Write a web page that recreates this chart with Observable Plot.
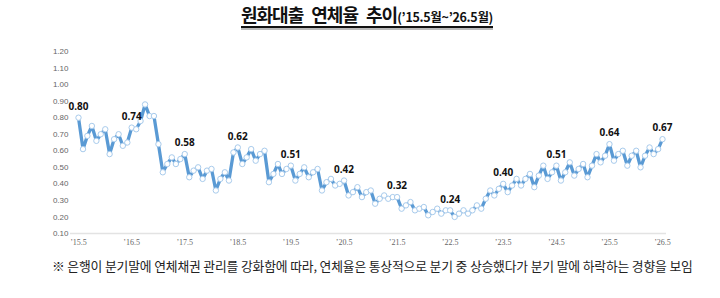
<!DOCTYPE html>
<html><head><meta charset="utf-8">
<script src="https://cdn.jsdelivr.net/npm/d3@7"></script>
<script src="https://cdn.jsdelivr.net/npm/@observablehq/plot@0.6"></script>
<style>
body{margin:0;width:720px;height:298px;background:#fff;position:relative;overflow:hidden;font-family:"Noto Sans CJK KR","Noto Sans",sans-serif;}
#title{position:absolute;top:5px;left:0;width:720px;text-align:center;line-height:1;}
#title .wrap{display:inline-block;border-bottom:2px solid #111;box-shadow:0 2px 0 #bbb;padding-bottom:2px;margin-left:14px;}
#title .main{font-size:18px;font-weight:700;color:#111;letter-spacing:-1px;word-spacing:5px;}
#title .sub{font-size:12.5px;font-weight:700;color:#111;font-family:"Liberation Sans Narrow","Noto Sans CJK KR",sans-serif;letter-spacing:-0.3px;}
#unit{position:absolute;top:52px;left:631px;font-size:9px;color:#333;font-weight:700;}
#chart{position:absolute;top:40px;left:0;}
#note{position:absolute;top:256px;left:52px;font-size:12.8px;color:#222;white-space:nowrap;letter-spacing:-0.15px;}
</style></head>
<body>
<div id="title"><span class="wrap"><span class="main">원화대출 연체율 추이</span><span class="sub">(’15.5월~’26.5월)</span></span></div>
<div id="unit">(단위 : %)</div>
<div id="chart"></div>
<div id="note">※ 은행이 분기말에 연체채권 관리를 강화함에 따라, 연체율은 통상적으로 분기 중 상승했다가 분기 말에 하락하는 경향을 보임</div>
<script>
// Monthly delinquency rate (%), May 2015 – May 2026
const v2015 = [0.80, 0.61, 0.69, 0.75, 0.66, 0.70, 0.73, 0.58]; // May–Dec
const v2016 = [0.67, 0.70, 0.63, 0.65, 0.74, 0.73, 0.78, 0.88, 0.81, 0.81, 0.64, 0.47];
const v2017 = [0.52, 0.56, 0.52, 0.55, 0.58, 0.44, 0.48, 0.50, 0.43, 0.48, 0.49, 0.36];
const v2018 = [0.43, 0.47, 0.42, 0.59, 0.62, 0.52, 0.56, 0.61, 0.54, 0.58, 0.60, 0.41];
const v2019 = [0.46, 0.52, 0.46, 0.49, 0.51, 0.42, 0.46, 0.50, 0.44, 0.47, 0.49, 0.36];
const v2020 = [0.41, 0.43, 0.39, 0.40, 0.42, 0.33, 0.35, 0.38, 0.32, 0.35, 0.36, 0.28];
const v2021 = [0.31, 0.33, 0.31, 0.32, 0.32, 0.25, 0.27, 0.29, 0.24, 0.25, 0.26, 0.21];
const v2022 = [0.23, 0.25, 0.22, 0.24, 0.24, 0.20, 0.22, 0.24, 0.22, 0.24, 0.27, 0.25];
const v2023 = [0.31, 0.36, 0.33, 0.37, 0.40, 0.35, 0.39, 0.43, 0.39, 0.43, 0.46, 0.38];
const v2024 = [0.45, 0.51, 0.43, 0.47, 0.51, 0.42, 0.47, 0.53, 0.45, 0.49, 0.52, 0.44];
const v2025 = [0.51, 0.58, 0.53, 0.57, 0.64, 0.54, 0.58, 0.60, 0.51, 0.57, 0.60, 0.50];
const v2026 = [0.57, 0.62, 0.58, 0.61, 0.67]; // Jan–May

const startYear = 2015, startMonth = 5;
const xTickLabels = ["’15.5","’16.5","’17.5","’18.5","’19.5","’20.5","’21.5","’22.5","’23.5","’24.5","’25.5","’26.5"];
const yTicks = [0.10,0.20,0.30,0.40,0.50,0.60,0.70,0.80,0.90,1.00,1.10,1.20];
const labeledMonth = 5; // values labelled every May

const values = [].concat(v2015,v2016,v2017,v2018,v2019,v2020,v2021,v2022,v2023,v2024,v2025,v2026);
const data = values.map((v,i)=>({date:new Date(Date.UTC(startYear, startMonth-1+i, 1)), value:v}));
const labelData = data.filter(d=>d.date.getUTCMonth()===labeledMonth-1);
const tickDates = xTickLabels.map(l=>{const [yy,mm]=l.slice(1).split(".");return new Date(Date.UTC(2000+(+yy),(+mm)-1,1));});
const tickMap = new Map(tickDates.map((d,i)=>[+d, xTickLabels[i]]));

const chart = Plot.plot({
  width:720, height:212,
  marginLeft:78, marginRight:58, marginTop:11, marginBottom:19,
  style:{fontSize:"8px", color:"#666", fontFamily:"Liberation Sans, sans-serif", background:"white"},
  x:{type:"utc", domain:[data[0].date, data[data.length-1].date], ticks:tickDates, tickFormat:d=>tickMap.get(+d), tickSize:0, tickPadding:6, label:null},
  y:{domain:[0.1,1.2], ticks:yTicks, tickFormat:d3.format(".2f"), tickSize:0, tickPadding:10, label:null},
  marks:[
    Plot.ruleY([0.1], {stroke:"#e3e3e3", strokeWidth:1.5, insetLeft:-8, insetRight:-4}),
    Plot.axisX({ticks:tickDates, tickFormat:d=>tickMap.get(+d), tickSize:0, tickPadding:6, fontFamily:"Liberation Serif, serif", fontSize:8, fill:"#666"}),
    Plot.line(data, {x:"date", y:"value", stroke:"#5a9ad4", strokeWidth:3.3, strokeLinejoin:"round"}),
    Plot.dot(data, {x:"date", y:"value", r:2.7, fill:"white", stroke:"#a8cbec", strokeWidth:1}),
    Plot.text(labelData, {x:"date", y:"value", text:d=>d.value.toFixed(2), dy:-11, fontWeight:"bold", fontSize:10, fill:"#111", fontFamily:"Noto Sans, sans-serif"})
  ]
});
document.getElementById("chart").appendChild(chart);
</script>
</body></html>
